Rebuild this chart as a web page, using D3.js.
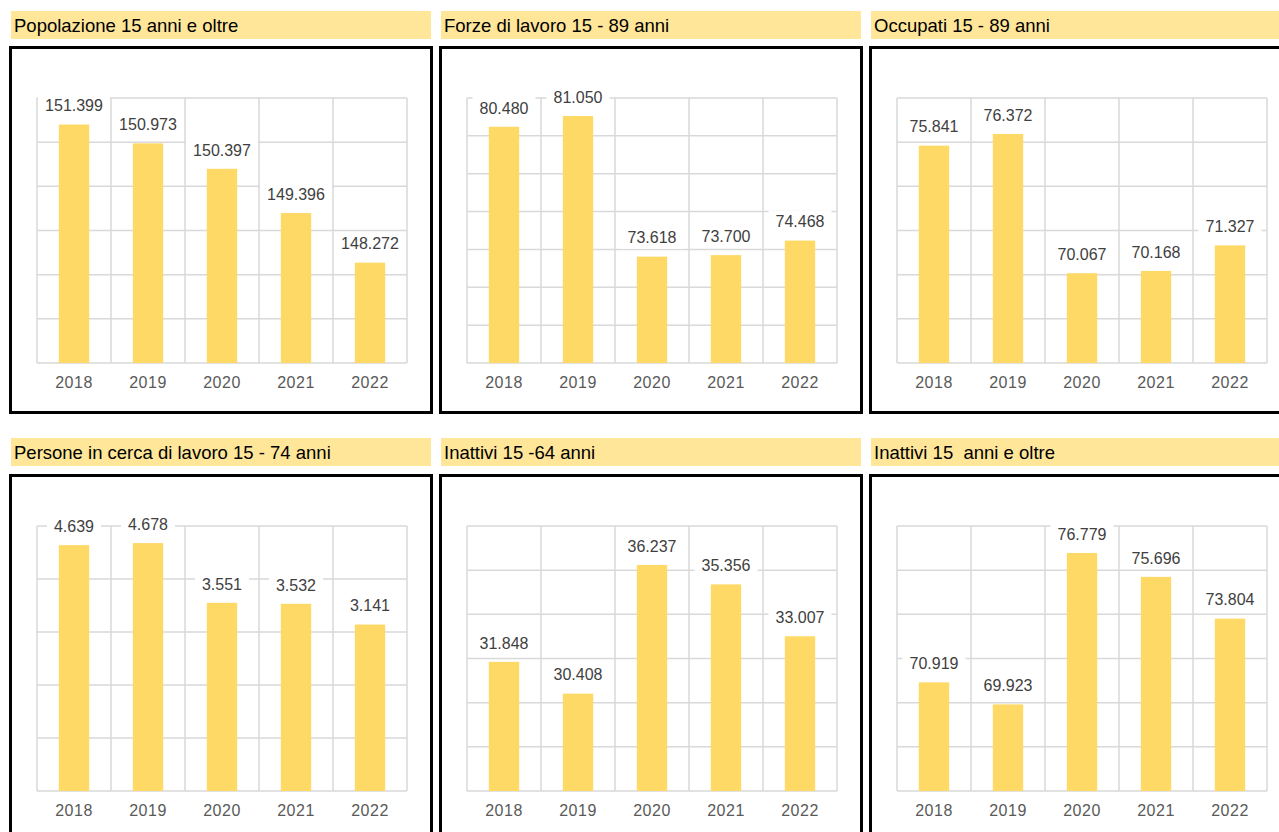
<!DOCTYPE html>
<html>
<head>
<meta charset="utf-8">
<script src="https://cdn.jsdelivr.net/npm/d3@7"></script>
<style>
  html, body { margin: 0; padding: 0; background: #fff; }
  svg { display: block; font-family: Arial, "Liberation Sans", sans-serif; }
</style>
</head>
<body>
<svg id="chart" width="1279" height="832"></svg>
<script>
// ---- data ----
const years = ["2018", "2019", "2020", "2021", "2022"];
const titles = [
  "Popolazione 15 anni e oltre",
  "Forze di lavoro 15 - 89 anni",
  "Occupati 15 - 89 anni",
  "Persone in cerca di lavoro 15 - 74 anni",
  "Inattivi 15 -64 anni",
  "Inattivi 15  anni e oltre"
];
const popolazione = [151399, 150973, 150397, 149396, 148272];
const forzeLavoro = [80480, 81050, 73618, 73700, 74468];
const occupati = [75841, 76372, 70067, 70168, 71327];
const inCerca = [4639, 4678, 3551, 3532, 3141];
const inattivi1564 = [31848, 30408, 36237, 35356, 33007];
const inattivi15 = [70919, 69923, 76779, 75696, 73804];
const seriesList = [popolazione, forzeLavoro, occupati, inCerca, inattivi1564, inattivi15];
// hidden value axis settings (min, max, major unit)
const axisMin = [146000, 68000, 66000, 0, 26000, 66000];
const axisMax = [152000, 82000, 78000, 5000, 38000, 78000];
const axisStep = [1000, 2000, 2000, 1000, 2000, 2000];

// ---- drawing ----
const svg = d3.select("#chart");
const itFmt = d3.formatLocale({decimal: ",", thousands: ".", grouping: [3], currency: ["€", ""]}).format(",d");

const colX = [9, 439, 869];
const rowTitleY = [11, 438];
const rowBoxY = [46, 474];

seriesList.forEach((values, i) => {
  const col = i % 3, row = Math.floor(i / 3);
  const bx = colX[col], by = rowBoxY[row];
  const g = svg.append("g");

  // title bar
  g.append("rect")
    .attr("x", bx + 2).attr("y", rowTitleY[row])
    .attr("width", col === 2 ? 1279 - bx - 2 : 420).attr("height", 28)
    .attr("fill", "#FFE699");
  g.append("text")
    .attr("x", bx + 5).attr("y", rowTitleY[row] + 21)
    .attr("font-size", 18.5).attr("fill", "#000")
    .style("white-space", "pre")
    .text(titles[i]);

  // box
  g.append("rect")
    .attr("x", bx + 1.5).attr("y", by + 1.5)
    .attr("width", col === 2 ? 1279 - bx + 10 : 421).attr("height", row === 1 ? 400 : 365)
    .attr("fill", "#fff").attr("stroke", "#000").attr("stroke-width", 3);

  const left = bx + 28, right = left + 370;
  const top = by + 52, bottom = by + 317;

  const x = d3.scaleBand().domain(years).range([left, right]).padding(0);
  const y = d3.scaleLinear().domain([axisMin[i], axisMax[i]]).range([bottom, top]);
  const ticks = d3.range(axisMin[i], axisMax[i] + axisStep[i] / 2, axisStep[i]);

  // gridlines
  const grid = g.append("g").attr("stroke", "#D9D9D9").attr("stroke-width", 1.5);
  grid.selectAll("line.h").data(ticks).join("line")
    .attr("x1", left).attr("x2", right)
    .attr("y1", d => y(d)).attr("y2", d => y(d));
  const bounds = years.map(d => x(d)).concat([right]);
  grid.selectAll("line.v").data(bounds).join("line")
    .attr("x1", d => d).attr("x2", d => d)
    .attr("y1", top).attr("y2", bottom);

  // bars
  const bw = x.bandwidth() * 0.41;
  g.selectAll("rect.bar").data(values).join("rect")
    .attr("class", "bar")
    .attr("x", (d, k) => x(years[k]) + (x.bandwidth() - bw) / 2)
    .attr("width", bw)
    .attr("y", d => y(d))
    .attr("height", d => bottom - y(d))
    .attr("fill", "#FFD966");

  // data labels with white background
  const lab = g.selectAll("g.lab").data(values).join("g").attr("class", "lab");
  lab.each(function(d, k) {
    const s = d3.select(this);
    const cx = x(years[k]) + x.bandwidth() / 2;
    const cy = y(d) - 19;
    const r = s.append("rect").attr("fill", "#fff");
    const t = s.append("text")
      .attr("x", cx).attr("y", cy).attr("dy", "0.36em")
      .attr("text-anchor", "middle")
      .attr("font-size", 16).attr("fill", "#404040")
      .text(itFmt(d));
    const w = t.node().getComputedTextLength();
    r.attr("x", cx - w / 2 - 7).attr("y", cy - 11).attr("width", w + 14).attr("height", 22);
  });

  // category axis
  const ax = g.append("g").attr("transform", `translate(0,${bottom})`)
    .call(d3.axisBottom(x).tickSize(0).tickPadding(14));
  ax.select(".domain").remove();
  ax.selectAll("text")
    .attr("font-size", 16).attr("fill", "#595959")
    .attr("font-family", "Arial, 'Liberation Sans', sans-serif")
    .attr("letter-spacing", "0.5px");
});
</script>
</body>
</html>
